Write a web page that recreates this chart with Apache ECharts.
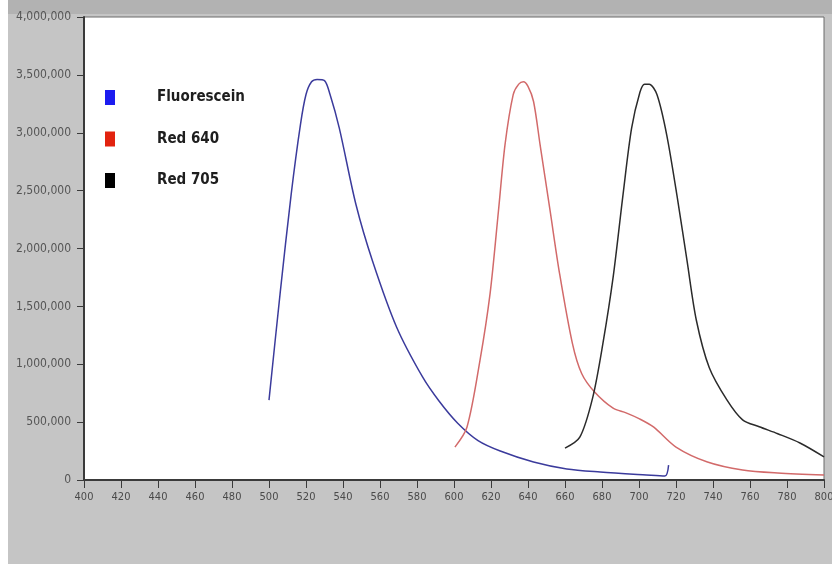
<!DOCTYPE html>
<html>
<head>
<meta charset="utf-8">
<script src="https://cdn.jsdelivr.net/npm/echarts@6/dist/echarts.min.js"></script>
<style>
  html, body { margin: 0; padding: 0; background: #fff; overflow: hidden; }
  #chart { position: absolute; left: 8px; top: 0; width: 824px; height: 564px; }
</style>
</head>
<body>
<div id="chart"></div>
<script>
// wavelength (nm) and emission intensity
const fluoWl = [500, 506, 512, 517, 520, 523, 526, 530, 533, 538, 547, 556, 569, 583, 592, 602, 613, 625, 643, 661, 679, 704, 714, 716];
const fluoVal = [690000, 1610000, 2470000, 3070000, 3330000, 3440000, 3460000, 3450000, 3330000, 3040000, 2380000, 1890000, 1320000, 890000, 680000, 490000, 340000, 250000, 155000, 95000, 69000, 43000, 34000, 129000];

const red640Wl = [600.5, 607, 614, 619.5, 624, 627.6, 632, 635, 637.5, 640, 643, 646.5, 652, 657, 664, 669, 676, 686, 693, 700, 708, 720, 737, 756, 775, 800];
const red640Val = [284000, 456000, 1030000, 1610000, 2320000, 2900000, 3330000, 3420000, 3440000, 3400000, 3270000, 2900000, 2320000, 1790000, 1180000, 920000, 760000, 620000, 580000, 530000, 456000, 284000, 155000, 86000, 60000, 43000];

const red705Wl = [660, 668, 675, 680.5, 686, 691.4, 696, 700.5, 703, 705.5, 709.7, 715, 721, 726, 731, 738, 747.6, 756, 765, 775, 787, 800];
const red705Val = [275000, 370000, 714000, 1180000, 1750000, 2470000, 3040000, 3350000, 3420000, 3420000, 3330000, 2980000, 2410000, 1890000, 1380000, 970000, 690000, 520000, 460000, 400000, 320000, 200000];

const seriesNames = ["Fluorescein", "Red 640", "Red 705"];
const lineColors = ["#3b3b9c", "#d26a6a", "#2b2b2b"];
const legendColors = ["#1c1cf0", "#e2230f", "#000000"];

const font = "'Liberation Sans Narrow', 'DejaVu Sans Condensed', 'Liberation Sans', sans-serif";

function pairs(xs, ys) {
  return xs.map((x, i) => [x, ys[i]]);
}

const chart = echarts.init(document.getElementById("chart"));

const dataSets = [pairs(fluoWl, fluoVal), pairs(red640Wl, red640Val), pairs(red705Wl, red705Val)];

const option = {
  backgroundColor: "#c5c5c5",
  animation: false,
  graphic: [
    { type: "rect", left: 0, top: 0, shape: { width: 824, height: 14 }, style: { fill: "#b2b2b2" }, z: -1 }
  ],
  grid: {
    left: 76, right: 8, top: 17, bottom: 84,
    outerBoundsMode: "none",
    show: true, backgroundColor: "#ffffff", borderColor: "#6a6a6a", borderWidth: 1
  },
  legend: {
    orient: "vertical",
    left: 92, top: 85,
    icon: "rect",
    itemWidth: 10, itemHeight: 15, itemGap: 26.5,
    textStyle: { fontFamily: font, fontSize: 15, fontWeight: "bold", color: "#1e1e1e", padding: [0, 0, 0, 37] },
    data: seriesNames.map((n, i) => ({ name: n, itemStyle: { color: legendColors[i] } }))
  },
  xAxis: {
    type: "value", min: 400, max: 800, interval: 20,
    axisLine: { lineStyle: { color: "#3a3a3a", width: 2 } },
    axisTick: { show: true, length: 8, lineStyle: { color: "#3a3a3a" } },
    axisLabel: { fontFamily: font, fontSize: 11, color: "#4a4a4a", margin: 12 },
    splitLine: { show: false }
  },
  yAxis: {
    type: "value", min: 0, max: 4000000, interval: 500000,
    axisLine: { show: true, lineStyle: { color: "#3a3a3a", width: 2 } },
    axisTick: { show: true, length: 7, lineStyle: { color: "#3a3a3a" } },
    axisLabel: {
      fontFamily: font, fontSize: 12, color: "#555", margin: 13,
      formatter: (v) => v.toLocaleString("en-US")
    },
    splitLine: { show: false }
  },
  series: dataSets.map((d, i) => ({
    name: seriesNames[i],
    type: "line",
    data: d,
    smooth: 0.3,
    symbol: "none",
    lineStyle: { color: lineColors[i], width: 1.5 },
    itemStyle: { color: legendColors[i] }
  }))
};

chart.setOption(option);
</script>
</body>
</html>
